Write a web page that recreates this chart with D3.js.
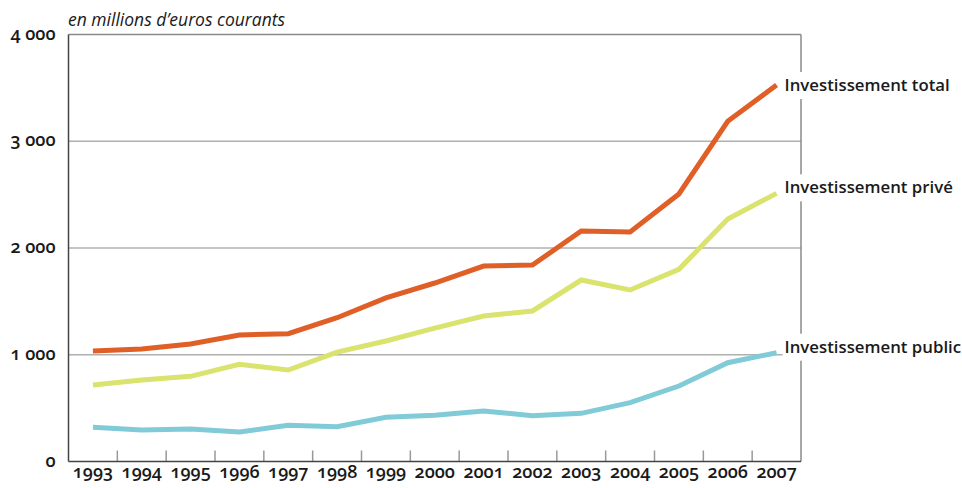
<!DOCTYPE html>
<html lang="fr">
<head>
<meta charset="utf-8">
<title>Investissement</title>
<script src="https://d3js.org/d3.v7.min.js"></script>
<style>
  body { margin: 0; background: #fff; }
  svg { font-family: "Open Sans", "Noto Sans", sans-serif; }
  .tick-label { font-size: 18px; font-weight: 600; fill: #1a1a1a; font-variant-numeric: oldstyle-nums; }
  .series-label { font-size: 16.8px; font-weight: 600; fill: #1a1a1a; }
</style>
</head>
<body>
<div id="chart"></div>
<script>
// data (millions d'euros courants)
var years = [1993, 1994, 1995, 1996, 1997, 1998, 1999, 2000, 2001, 2002, 2003, 2004, 2005, 2006, 2007];
var totalValues  = [1035, 1054, 1100, 1185, 1197, 1347, 1532, 1672, 1831, 1840, 2159, 2150, 2506, 3187, 3527];
var priveValues  = [717, 763, 798, 910, 857, 1025, 1129, 1250, 1363, 1410, 1700, 1607, 1800, 2272, 2512];
var publicValues = [320, 295, 304, 276, 339, 326, 414, 433, 473, 429, 451, 551, 707, 925, 1019];
var yTicks = [0, 1000, 2000, 3000, 4000];
var seriesNames = ["Investissement total", "Investissement privé", "Investissement public"];
var seriesColors = ["#df5f27", "#d9e36e", "#80cbd7"];

var margin = {top: 34.5, right: 161, bottom: 26.5, left: 68.5},
    width = 962 - margin.left - margin.right,
    height = 488 - margin.top - margin.bottom;

var svg = d3.select("#chart")
  .append("svg")
    .attr("width", 962)
    .attr("height", 488);

var g = svg.append("g")
    .attr("transform", "translate(" + margin.left + "," + margin.top + ")");

var x = d3.scaleBand()
  .domain(years)
  .range([0, width]);

var y = d3.scaleLinear()
  .domain([0, 4000])
  .range([height, 0]);

// gridlines
g.selectAll("line.grid")
  .data(yTicks.filter(function(d) { return d > 0; }))
  .enter()
  .append("line")
    .attr("class", "grid")
    .attr("x1", 0)
    .attr("x2", width)
    .attr("y1", function(d) { return y(d); })
    .attr("y2", function(d) { return y(d); })
    .attr("stroke", function(d) { return d == 4000 ? "#8a8a8a" : "#b0b0b0"; })
    .attr("stroke-width", 1.5);

// right border
g.append("line")
  .attr("x1", width).attr("x2", width)
  .attr("y1", 0).attr("y2", height)
  .attr("stroke", "#8a8a8a")
  .attr("stroke-width", 1.5);

// ticks between years
g.selectAll("line.xtick")
  .data(years.slice(1))
  .enter()
  .append("line")
    .attr("class", "xtick")
    .attr("x1", function(d) { return x(d); })
    .attr("x2", function(d) { return x(d); })
    .attr("y1", height)
    .attr("y2", height - 11)
    .attr("stroke", "#999")
    .attr("stroke-width", 1.5);

// axes lines
g.append("line")
  .attr("x1", 0).attr("x2", 0)
  .attr("y1", 0).attr("y2", height)
  .attr("stroke", "#444").attr("stroke-width", 1.5);
g.append("line")
  .attr("x1", 0).attr("x2", width)
  .attr("y1", height).attr("y2", height)
  .attr("stroke", "#444").attr("stroke-width", 1.5);

// y labels
g.selectAll("text.ylab")
  .data(yTicks)
  .enter()
  .append("text")
    .attr("class", "tick-label")
    .attr("x", -13)
    .attr("y", function(d) { return y(d) + 5; })
    .attr("text-anchor", "end")
    .text(function(d) { return d == 0 ? "0" : d3.format(",")(d).replace(",", " "); });

// x labels
g.selectAll("text.xlab")
  .data(years)
  .enter()
  .append("text")
    .attr("class", "tick-label")
    .attr("x", function(d) { return x(d) + x.bandwidth() / 2; })
    .attr("y", height + 16)
    .attr("text-anchor", "middle")
    .text(function(d) { return d; });

// lines
var line = d3.line()
  .x(function(d, i) { return x(years[i]) + x.bandwidth() / 2; })
  .y(function(d) { return y(d); });

var allSeries = [totalValues, priveValues, publicValues];

g.selectAll("path.serie")
  .data(allSeries)
  .enter()
  .append("path")
    .attr("class", "serie")
    .attr("d", line)
    .attr("fill", "none")
    .attr("stroke", function(d, i) { return seriesColors[i]; })
    .attr("stroke-width", 5)
    .attr("stroke-linejoin", "miter");

// labels at line ends, white box hides the border
var labelShift = [6, 0, 0];
var lab = g.selectAll("g.lab")
  .data(allSeries)
  .enter()
  .append("g")
    .attr("class", "lab")
    .attr("transform", function(d, i) {
      return "translate(" + (x(years[years.length - 1]) + x.bandwidth() / 2 + 8) + "," + (y(d[d.length - 1]) + labelShift[i]) + ")";
    });

lab.append("rect")
  .attr("x", -2)
  .attr("y", -19)
  .attr("width", 182)
  .attr("height", 27)
  .attr("fill", "#fff");

lab.append("text")
  .attr("class", "series-label")
  .text(function(d, i) { return seriesNames[i]; });

// unit title
svg.append("text")
  .attr("x", 68)
  .attr("y", 26)
  .style("font-size", "17.5px")
  .style("font-style", "italic")
  .style("fill", "#1a1a1a")
  .text("en millions d\u2019euros courants");
</script>
</body>
</html>
